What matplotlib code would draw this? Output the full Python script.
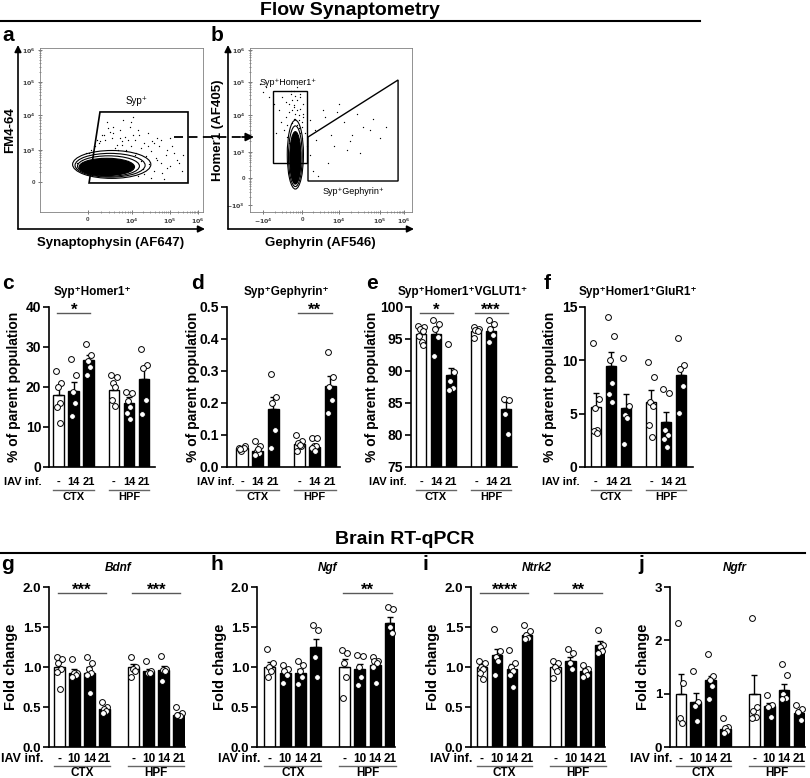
import numpy as np
import matplotlib
matplotlib.use('Agg')
import matplotlib.pyplot as plt
from matplotlib.patches import Ellipse, Polygon

plt.rcParams['font.family'] = ['Liberation Sans', 'DejaVu Sans']
plt.rcParams['font.weight'] = 'bold'
plt.rcParams['axes.labelweight'] = 'bold'

W, H = 810, 778

# %% Flow data (plot units 0-100 on each axis)
a_xticks = [29.4, 56.4, 79.8, 96.9]
a_xticklabels = ['0', '$10^4$', '$10^5$', '$10^6$']
a_yticks = [18.3, 37.8, 59.1, 79.3, 98.8]
a_yticklabels = ['0', '$10^3$', '$10^4$', '$10^5$', '$10^6$']
b_xticks = [8.0, 32.1, 54.9, 80.2, 95.1]
b_xticklabels = ['$-10^4$', '0', '$10^4$', '$10^5$', '$10^6$']
b_yticks = [4.3, 20.7, 36.6, 59.1, 79.3, 98.8]
b_yticklabels = ['$-10^3$', '0', '$10^3$', '$10^4$', '$10^5$', '$10^6$']

a_gate_x = [36.8, 90.8, 90.8, 30.1]
a_gate_y = [61.0, 61.0, 17.7, 17.7]
b_hom_x = [14.2, 35.2, 35.2, 14.2]
b_hom_y = [73.8, 73.8, 29.9, 29.9]
b_geph_x = [35.8, 91.4, 91.4, 35.8]
b_geph_y = [45.7, 80.5, 18.9, 18.9]

a_cont_x = [44, 43, 42, 41, 40.5]
a_cont_y = [29, 28.5, 28, 27.5, 27]
a_cont_w = [48, 43, 38, 34, 31]
a_cont_h = [17, 14.5, 12.5, 10.5, 9]
b_cont_x = [28, 28, 28, 28]
b_cont_y = [35, 34, 33, 32]
b_cont_w = [10, 8.5, 7, 6]
b_cont_h = [42, 37, 32, 29]

a_dots_x = [30, 33, 36, 40, 44, 47, 50, 53, 56, 59, 62, 65, 68, 71, 74, 77, 80, 84, 87, 45,
            49, 52, 55, 58, 61, 64, 67, 70, 73, 38, 42, 56, 60, 66, 72, 78, 35, 48, 54, 63,
            69, 75, 82, 51, 57, 22, 23, 26, 28, 31, 34, 37, 39, 43, 46, 50, 54, 58, 62, 66,
            70, 74, 78, 81, 85, 88, 64, 68, 72, 76, 80, 60, 57, 53, 49, 45, 41]
a_dots_y = [36, 40, 42, 44, 45, 41, 43, 38, 40, 36, 39, 34, 37, 33, 30, 35, 28, 32, 25, 48,
            50, 46, 52, 44, 47, 42, 29, 25, 40, 47, 51, 55, 22, 48, 45, 38, 44, 38, 31, 26,
            43, 24, 36, 56, 47, 27, 30, 32, 36, 38, 40, 43, 47, 49, 39, 41, 44, 35, 31, 40,
            42, 44, 27, 40, 30, 35, 23, 21, 32, 20, 45, 50, 58, 37, 45, 52, 55]
b_dots_x = [18, 20, 22, 24, 25, 26, 27, 28, 29, 30, 31, 32, 33, 34, 21, 23, 25, 27, 29, 31,
            33, 26, 28, 30, 24, 32, 19, 16, 10, 6, 40, 45, 52, 58, 63, 70, 76, 80, 48, 55,
            42, 66, 37, 39, 60, 22, 24, 26, 27, 28, 29, 30, 31, 32, 25, 27, 29, 31, 33, 23,
            35, 37, 41, 46, 50, 54, 62, 68, 74, 84, 12, 15, 8]
b_dots_y = [62, 70, 58, 66, 72, 54, 64, 60, 68, 56, 63, 52, 58, 48, 50, 46, 44, 74, 76, 70,
            66, 62, 57, 51, 42, 45, 55, 48, 76, 78, 50, 62, 40, 55, 47, 52, 57, 45, 30, 66,
            22, 60, 35, 25, 38, 67, 61, 68, 57, 71, 53, 59, 48, 55, 74, 65, 62, 72, 60, 53,
            40, 56, 44, 58, 47, 61, 43, 36, 50, 52, 70, 66, 73]

# %% Flow synaptometry bar data
top_labels = ['-', '14', '21', '-', '14', '21']
c_mean = [17.9, 19.0, 26.7, 19.3, 16.0, 22.0]
c_sem = [2.7, 2.2, 1.3, 1.3, 1.4, 3.0]
c_pts = [[24, 21, 20, 16, 15, 11], [27, 22.9, 18.8, 16, 12.8], [30.8, 28, 26.5, 25, 23],
         [23.1, 22.5, 21, 20, 16.8, 15.2], [18.8, 18.6, 16.5, 15, 13.5, 12],
         [29.4, 25.6, 24.7, 16.8, 13.3]]
d_mean = [0.060, 0.050, 0.180, 0.071, 0.063, 0.253]
d_sem = [0.004, 0.007, 0.040, 0.007, 0.006, 0.030]
d_pts = [[0.06, 0.065, 0.05, 0.06, 0.055], [0.08, 0.065, 0.05, 0.045, 0.038, 0.055],
         [0.29, 0.22, 0.2, 0.115, 0.06], [0.1, 0.08, 0.075, 0.065, 0.05, 0.07],
         [0.09, 0.09, 0.065, 0.065, 0.06, 0.05], [0.36, 0.28, 0.25, 0.21, 0.17]]
e_mean = [95.8, 95.8, 89.3, 96.3, 96.3, 84.0]
e_sem = [0.5, 0.9, 1.2, 0.3, 0.6, 1.1]
e_pts = [[97.0, 96.8, 96.5, 96.3, 95.5, 94.6, 94.0], [97.9, 97.3, 96.5, 95.3, 92.3],
         [94.2, 89.9, 88.5, 87.3, 87.1], [96.8, 96.6, 96.4, 96.2, 95.1],
         [97.9, 97.4, 96.5, 95.6, 94.6], [85.7, 85.5, 83.3, 80.1]]
f_mean = [5.6, 9.5, 5.5, 6.1, 4.2, 8.6]
f_sem = [1.3, 1.3, 1.3, 1.1, 1.0, 0.8]
f_pts = [[11.6, 6.4, 5.5, 3.5, 3.4, 3.2], [14.1, 12.3, 10.0, 7.85, 6.8, 6.1],
         [10.2, 5.7, 4.9, 4.6, 2.2], [9.8, 8.4, 6.1, 5.7, 3.95, 2.8],
         [7.3, 6.9, 3.5, 3.0, 2.6, 1.9], [12.05, 9.6, 9.2, 7.6, 5.05]]

# %% RT-qPCR data
bot_labels = ['-', '10', '14', '21', '-', '10', '14', '21']
g_mean = [1.0, 0.92, 0.93, 0.47, 1.0, 0.95, 0.96, 0.40]
g_sem = [0.06, 0.05, 0.07, 0.03, 0.04, 0.03, 0.05, 0.02]
g_pts = [[1.13, 1.1, 1.05, 0.98, 0.94, 0.73], [1.1, 0.93, 0.92, 0.9, 0.88],
         [1.12, 1.05, 0.97, 0.92, 0.9, 0.675], [0.56, 0.5, 0.48, 0.45, 0.42],
         [1.13, 1.0, 0.98, 0.95, 0.875], [1.08, 0.95, 0.93, 0.92],
         [1.14, 0.98, 0.96, 0.95, 0.83], [0.5, 0.42, 0.4, 0.39, 0.4]]
h_mean = [1.0, 0.92, 0.92, 1.25, 1.0, 0.97, 1.02, 1.55]
h_sem = [0.06, 0.05, 0.06, 0.10, 0.10, 0.07, 0.05, 0.07]
h_pts = [[1.22, 1.05, 1.0, 0.95, 0.88], [1.03, 0.98, 0.95, 0.9, 0.8],
         [1.08, 1.02, 0.95, 0.88, 0.79], [1.53, 1.46, 1.12, 0.87],
         [1.21, 1.17, 1.05, 0.88, 0.61], [1.15, 1.14, 1.0, 0.88, 0.78],
         [1.13, 1.08, 1.07, 1.05, 1.0, 0.8], [1.75, 1.73, 1.5, 1.42]]
i_mean = [1.0, 1.15, 0.98, 1.40, 1.0, 1.08, 0.95, 1.27]
i_sem = [0.04, 0.08, 0.06, 0.03, 0.04, 0.05, 0.03, 0.05]
i_pts = [[1.07, 1.05, 1.0, 0.98, 0.92, 0.85], [1.47, 1.2, 1.12, 1.08, 0.9],
         [1.21, 1.05, 1.0, 0.95, 0.9, 0.75], [1.53, 1.45, 1.4, 1.36, 1.35],
         [1.07, 1.05, 1.0, 0.95, 0.86], [1.23, 1.18, 1.05, 0.98],
         [1.03, 0.98, 0.95, 0.9, 0.88], [1.46, 1.28, 1.25, 1.2, 1.18]]
j_mean = [1.0, 0.85, 1.25, 0.33, 1.0, 0.77, 1.06, 0.63]
j_sem = [0.37, 0.17, 0.08, 0.05, 0.35, 0.05, 0.12, 0.07]
j_pts = [[2.32, 1.2, 0.55, 0.45], [1.43, 0.85, 0.77, 0.49], [1.75, 1.33, 1.25, 1.15, 0.9],
         [0.55, 0.38, 0.35, 0.3, 0.27], [2.41, 0.75, 0.68, 0.56, 0.55],
         [0.97, 0.78, 0.75, 0.57], [1.55, 1.35, 1.0, 0.92, 0.9], [0.79, 0.72, 0.65, 0.5]]

top_pos = [0, 1, 2, 3.67, 4.67, 5.67]
bot_pos = [0, 1, 2, 3, 4.9, 5.9, 6.9, 7.9]
jitter = np.array([-0.17, 0.17, -0.05, 0.1, -0.14, 0.05, 0.15])


def rect(x0, x1, y0, y1):
    return [x0 / W, 1 - y1 / H, (x1 - x0) / W, (y1 - y0) / H]


fig = plt.figure(figsize=(8.1, 7.78), dpi=100)


# %% Flow panels
def flow_axes(r, xt, xtl, yt, ytl):
    ax = fig.add_axes(r)
    ax.set_xlim(0, 100)
    ax.set_ylim(0, 100)
    for s in ax.spines.values():
        s.set_color('0.5')
        s.set_linewidth(0.6)
    ax.set_xticks(xt)
    ax.set_xticklabels(xtl)
    ax.set_yticks(yt)
    ax.set_yticklabels(ytl)
    minors_x = []
    for k in range(len(xt) - 1):
        minors_x += list(xt[k] + (xt[k + 1] - xt[k]) * np.log10(np.arange(2, 10)))
    minors_y = []
    for k in range(len(yt) - 1):
        minors_y += list(yt[k] + (yt[k + 1] - yt[k]) * np.log10(np.arange(2, 10)))
    ax.set_xticks(minors_x, minor=True)
    ax.set_yticks(minors_y, minor=True)
    ax.tick_params(direction='inout', length=3, width=0.5, labelsize=4.5, pad=2,
                   colors='0.25')
    ax.tick_params(which='minor', direction='inout', length=1.6, width=0.4, colors='0.3')
    return ax


ax_a = flow_axes(rect(40, 203, 48, 212), a_xticks, a_xticklabels, a_yticks, a_yticklabels)
ax_a.scatter(a_dots_x, a_dots_y, s=0.9, c='k', lw=0)
for k in range(len(a_cont_x)):
    filled = k >= 3
    ax_a.add_patch(Ellipse((a_cont_x[k], a_cont_y[k]), a_cont_w[k], a_cont_h[k],
                           facecolor='k' if filled else 'none', edgecolor='k', lw=0.8))
ax_a.add_patch(Polygon(list(zip(a_gate_x, a_gate_y)), closed=True, fill=False,
                       edgecolor='k', lw=1.2))
ax_a.text(59.5, 64.6, 'Syp\u207a', fontsize=7, fontweight='normal', ha='center', va='bottom')

ax_b = flow_axes(rect(250, 412, 48, 212), b_xticks, b_xticklabels, b_yticks, b_yticklabels)
ax_b.scatter(b_dots_x, b_dots_y, s=0.9, c='k', lw=0)
for k in range(len(b_cont_x)):
    filled = k >= 2
    ax_b.add_patch(Ellipse((b_cont_x[k], b_cont_y[k]), b_cont_w[k], b_cont_h[k],
                           facecolor='k' if filled else 'none', edgecolor='k', lw=0.8))
ax_b.add_patch(Polygon(list(zip(b_hom_x, b_hom_y)), closed=True, fill=False,
                       edgecolor='k', lw=1.0))
ax_b.add_patch(Polygon(list(zip(b_geph_x, b_geph_y)), closed=True, fill=False,
                       edgecolor='k', lw=1.0))
ax_b.text(6.2, 78.7, 'Syp\u207aHomer1\u207a', fontsize=6.5, fontweight='normal', va='center')
ax_b.text(63.6, 12.8, 'Syp\u207aGephyrin\u207a', fontsize=6.5, fontweight='normal',
          ha='center', va='center')


# %% Bar panels
def bar_panel(r, xlim, pos, labels, means, sems, pts, ylim, yticks, yfmt, ylabel, ylab_x,
              sig, fsize, ylab_size, cat_size, lab_dy, line_dy, grp_dy):
    ax = fig.add_axes(r)
    colors = ['white' if l == '-' else 'black' for l in labels]
    ax.bar(pos, means, width=0.72, color=colors, edgecolor='k', lw=1, zorder=2)
    ax.errorbar(pos, means, yerr=[np.zeros(len(means)), sems], fmt='none', ecolor='k',
                elinewidth=1, capsize=2.5, capthick=1, zorder=3)
    for p, vals in zip(pos, pts):
        ax.plot(p + jitter[:len(vals)], vals, 'o', ms=4.2, mfc='white', mec='k', mew=0.7,
                zorder=4, clip_on=False)
    ax.set_xlim(xlim)
    ax.set_ylim(ylim)
    ax.set_yticks(yticks)
    ax.set_yticklabels([yfmt.format(v) for v in yticks])
    ax.set_xticks([])
    ax.spines['top'].set_visible(False)
    ax.spines['right'].set_visible(False)
    ax.spines['left'].set_linewidth(1.2)
    ax.spines['bottom'].set_linewidth(1.2)
    ax.tick_params(axis='y', length=4, width=1.2, labelsize=fsize, pad=1.5)
    ax.set_ylabel(ylabel, fontsize=ylab_size, va='center')
    ax.yaxis.set_label_coords(ylab_x, 0.5)
    tr = ax.get_xaxis_transform()
    for p, l in zip(pos, labels):
        ax.text(p, -lab_dy / 160, l, transform=tr, ha='center', va='center',
                fontsize=cat_size)
    n = len(pos) // 2
    for g, name in enumerate(['CTX', 'HPF']):
        gp = pos[g * n:(g + 1) * n]
        ax.plot([gp[0] - 0.36, gp[-1] + 0.36], [-line_dy / 160] * 2, color='0.4', lw=1,
                transform=tr, clip_on=False)
        ax.text((gp[0] + gp[-1]) / 2, -grp_dy / 160, name, transform=tr, ha='center',
                va='center', fontsize=cat_size)
    for i0, i1, stars in sig:
        ax.plot([pos[i0] - 0.1, pos[i1] + 0.1], [0.9625, 0.9625], color='0.35', lw=1,
                transform=tr, clip_on=False)
        ax.text((pos[i0] + pos[i1]) / 2, 0.93, stars, transform=tr, ha='center',
                va='bottom', fontsize=12)
    return ax


pct = '% of parent population'
top_kw = dict(fsize=10, ylab_size=10, cat_size=8, lab_dy=15, line_dy=23, grp_dy=30)
bar_panel(rect(49, 155, 307, 467), (-0.65, 6.4), top_pos, top_labels, c_mean, c_sem, c_pts,
          (0, 40), [0, 10, 20, 30, 40], '{:.0f}', pct, -35 / 106, [(0, 2, '*')], **top_kw)
bar_panel(rect(227, 340, 307, 467), (-0.97, 6.3), top_pos, top_labels, d_mean, d_sem, d_pts,
          (0, 0.5), [0, 0.1, 0.2, 0.3, 0.4, 0.5], '{:.1f}', pct, -34 / 113, [(3, 5, '**')],
          **top_kw)
bar_panel(rect(411, 517, 307, 467), (-0.67, 6.4), top_pos, top_labels, e_mean, e_sem, e_pts,
          (75, 100), [75, 80, 85, 90, 95, 100], '{:.0f}', pct, -39 / 106,
          [(0, 2, '*'), (3, 5, '***')], **top_kw)
bar_panel(rect(585, 693, 307, 467), (-0.73, 6.47), top_pos, top_labels, f_mean, f_sem, f_pts,
          (0, 15), [0, 5, 10, 15], '{:.0f}', pct, -35 / 108, [], **top_kw)

fc = 'Fold change'
bot_kw = dict(fsize=9.5, ylab_size=10.5, cat_size=8.5, lab_dy=12, line_dy=19, grp_dy=25.5)
bar_panel(rect(49, 185, 587, 747), (-0.67, 8.3), bot_pos, bot_labels, g_mean, g_sem, g_pts,
          (0, 2), [0, 0.5, 1.0, 1.5, 2.0], '{:.1f}', fc, -38 / 136,
          [(0, 3, '***'), (4, 7, '***')], **bot_kw)
bar_panel(rect(257, 395, 587, 747), (-0.85, 8.2), bot_pos, bot_labels, h_mean, h_sem, h_pts,
          (0, 2), [0, 0.5, 1.0, 1.5, 2.0], '{:.1f}', fc, -37 / 138, [(4, 7, '**')], **bot_kw)
bar_panel(rect(471, 605, 587, 747), (-0.73, 8.2), bot_pos, bot_labels, i_mean, i_sem, i_pts,
          (0, 2), [0, 0.5, 1.0, 1.5, 2.0], '{:.1f}', fc, -38 / 134,
          [(0, 3, '****'), (4, 7, '**')], **bot_kw)
bar_panel(rect(670, 805, 587, 747), (-0.73, 8.3), bot_pos, bot_labels, j_mean, j_sem, j_pts,
          (0, 3), [0, 1, 2, 3], '{:.0f}', fc, -27 / 135, [], **bot_kw)

# %% Overlay: headers, letters, titles, arrows
ov = fig.add_axes([0, 0, 1, 1], zorder=10)
ov.set_xlim(0, W)
ov.set_ylim(H, 0)
ov.axis('off')

ov.text(350, 10, 'Flow Synaptometry', ha='center', va='center', fontsize=14)
ov.plot([0, 700], [21, 21], 'k', lw=1.5)
ov.text(405, 540, 'Brain RT-qPCR', ha='center', va='center', fontsize=14)
ov.plot([0, 805], [553, 553], 'k', lw=1.5)

for letter, x, y in [('a', 8, 35), ('b', 217, 35), ('c', 8, 283), ('d', 197, 283),
                     ('e', 372, 283), ('f', 547, 283), ('g', 8, 565), ('h', 217, 565),
                     ('i', 425, 565), ('j', 641, 565)]:
    ov.text(x, y, letter, ha='center', va='center', fontsize=15)

for t, x in [('Syp\u207aHomer1\u207a', 92), ('Syp\u207aGephyrin\u207a', 286),
             ('Syp\u207aHomer1\u207aVGLUT1\u207a', 463), ('Syp\u207aHomer1\u207aGluR1\u207a', 638)]:
    ov.text(x, 292, t, ha='center', va='center', fontsize=8.5)
for t, x in [('Bdnf', 118), ('Ngf', 328), ('Ntrk2', 537), ('Ngfr', 735)]:
    ov.text(x, 568, t, ha='center', va='center', fontsize=8.5, style='italic')

for x, y, fs in [(42, 482, 8), (235, 482, 8), (407, 482, 8), (580, 482, 8),
                 (43, 759, 9), (260, 759, 9), (472, 759, 9), (672, 759, 9)]:
    ov.text(x, y, 'IAV inf.', ha='right', va='center', fontsize=fs)

# flow axis arrows and labels
for x0, x1 in [(18, 205), (228, 414)]:
    ov.annotate('', xy=(x0, 45), xytext=(x0, 229),
                arrowprops=dict(arrowstyle='-|>', color='k', lw=1.2, mutation_scale=10,
                                shrinkA=0, shrinkB=0))
    ov.annotate('', xy=(x1, 229), xytext=(x0, 229),
                arrowprops=dict(arrowstyle='-|>', color='k', lw=1.2, mutation_scale=10,
                                shrinkA=0, shrinkB=0))
ov.text(10, 130, 'FM4-64', rotation=90, ha='center', va='center', fontsize=9.5)
ov.text(111, 243, 'Synaptophysin (AF647)', ha='center', va='center', fontsize=9.5)
ov.text(218, 130, 'Homer1 (AF405)', rotation=90, ha='center', va='center', fontsize=9.5)
ov.text(320, 243, 'Gephyrin (AF546)', ha='center', va='center', fontsize=9.5)
ov.plot([174, 244], [137, 137], 'k--', lw=1.3, dashes=(5, 3))
ov.annotate('', xy=(254, 137), xytext=(242, 137),
            arrowprops=dict(arrowstyle='-|>', color='k', lw=1.3, mutation_scale=12,
                            shrinkA=0, shrinkB=0))

fig.savefig('out.png', dpi=100)
